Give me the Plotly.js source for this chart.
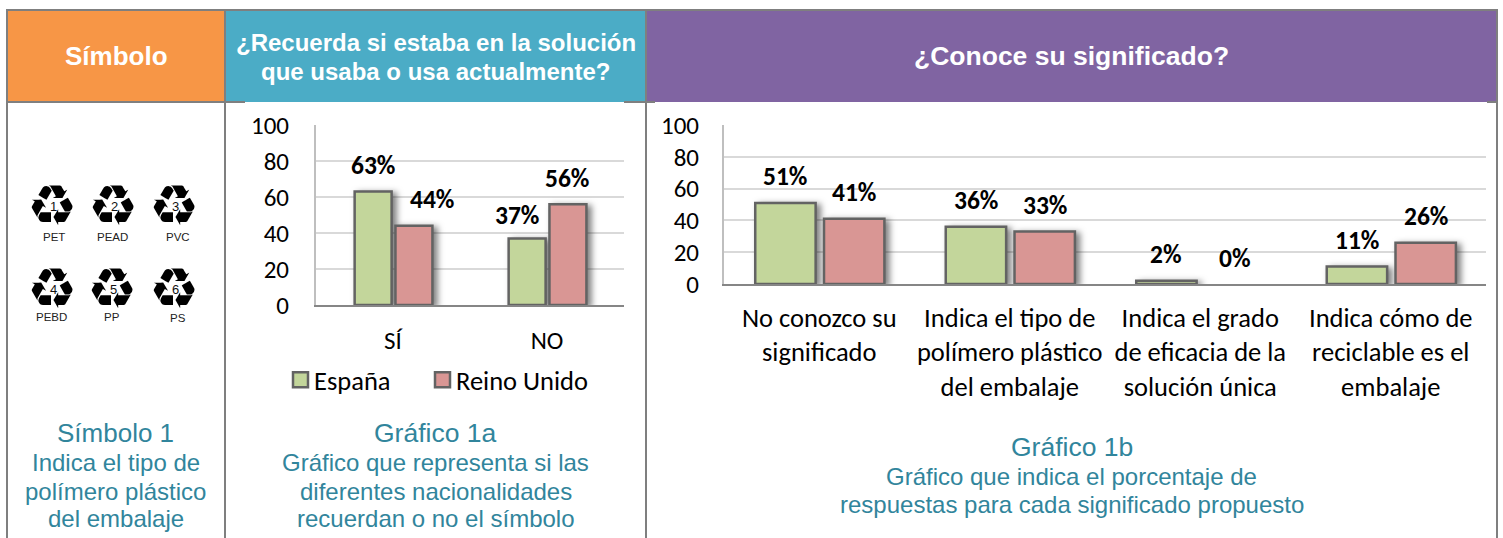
<!DOCTYPE html>
<html>
<head>
<meta charset="utf-8">
<script src="https://cdn.plot.ly/plotly-3.0.1.min.js"></script>
<style>html,body{margin:0;padding:0;background:#fff}#c{width:1503px;height:538px}</style>
</head>
<body>
<div id="c"></div>
<script>
const seriesNames = ['España', 'Reino Unido'];
const recallCats = ['SÍ', 'NO'];
const recallEspana = [63, 37];
const recallReino = [44, 56];
const meaningCats = ['No conozco su<br>significado', 'Indica el tipo de<br>polímero plástico<br>del embalaje', 'Indica el grado<br>de eficacia de la<br>solución única', 'Indica cómo de<br>reciclable es el<br>embalaje'];
const meaningEspana = [51, 36, 2, 11];
const meaningReino = [41, 33, 0, 26];
const yTicks = [0, 20, 40, 60, 80, 100];
const plasticCodes = ['1', '2', '3', '4', '5', '6'];
const plasticNames = ['PET', 'PEAD', 'PVC', 'PEBD', 'PP', 'PS'];

const W = 1503, H = 538;
const px = x => x / W, py = y => 1 - y / H;
const GREEN = '#c3d69b', RED = '#d99694', EDGE = '#636363', TEAL = '#31859c', BORDER = '#7f7f7f';
const CAL = 'Carlito, Lato, sans-serif', ARIAL = '"Liberation Sans", Arial, sans-serif';

const bar = (x, y, name, color, xa, ya, show, width, offset) => ({
  type: 'bar', x, y, name, xaxis: xa, yaxis: ya, showlegend: show, cliponaxis: false, width, offset,
  marker: {color, line: {color: EDGE, width: y.map(v => v > 0 ? 2.5 : 0)}}
});
const data = [
  bar(recallCats, recallEspana, seriesNames[0], GREEN, 'x', 'y', true, 0.24, -0.249),
  bar(recallCats, recallReino, seriesNames[1], RED, 'x', 'y', true, 0.24, 0.016),
  bar(meaningCats, meaningEspana, seriesNames[0], GREEN, 'x2', 'y2', false, 0.317, -0.336),
  bar(meaningCats, meaningReino, seriesNames[1], RED, 'x2', 'y2', false, 0.317, 0.025)
];

const txt = (x, y, text, size, color, family, bold) => ({
  xref: 'paper', yref: 'paper', x: px(x), y: py(y), text: bold ? '<b>' + text + '</b>' : text,
  showarrow: false, xanchor: 'center', yanchor: 'middle',
  font: {size, color, family}
});
const label = (xa, ya, x, v, dx, dy) => ({
  xref: xa, yref: ya, x, y: v, text: '<b>' + v + '%</b>', showarrow: false,
  xshift: dx, yshift: dy, xanchor: 'center', yanchor: 'middle',
  font: {size: 25.5, color: '#000', family: CAL}
});

const annotations = [
  txt(116.5, 56, 'Símbolo', 26, '#fff', ARIAL, true),
  txt(435.5, 42, '¿Recuerda si estaba en la solución', 24, '#fff', ARIAL, true),
  txt(435.5, 71, 'que usaba o usa actualmente?', 24, '#fff', ARIAL, true),
  txt(1071, 56, '¿Conoce su significado?', 26.5, '#fff', ARIAL, true),
  txt(115.5, 433, 'Símbolo 1', 26, TEAL, ARIAL),
  txt(115.5, 462, 'Indica el tipo de', 24, TEAL, ARIAL),
  txt(115.5, 491, 'polímero plástico', 24, TEAL, ARIAL),
  txt(115.5, 518, 'del embalaje', 24, TEAL, ARIAL),
  txt(435.5, 433, 'Gráfico 1a', 26.5, TEAL, ARIAL),
  txt(435.5, 462, 'Gráfico que representa si las', 24, TEAL, ARIAL),
  txt(435.5, 491, 'diferentes nacionalidades', 24, TEAL, ARIAL),
  txt(435.5, 518, 'recuerdan o no el símbolo', 24, TEAL, ARIAL),
  txt(1071.5, 447, 'Gráfico 1b', 26.5, TEAL, ARIAL),
  txt(1071.5, 476, 'Gráfico que indica el porcentaje de', 24, TEAL, ARIAL),
  txt(1071.5, 504, 'respuestas para cada significado propuesto', 24, TEAL, ARIAL)
];

const espShift = [-20, -30], reiShift = [39, 20], espLift = [26, 23];
recallCats.forEach((c, i) => {
  annotations.push(label('x', 'y', c, recallEspana[i], espShift[i], espLift[i]));
  annotations.push(label('x', 'y', c, recallReino[i], reiShift[i], 26));
});
meaningCats.forEach((c, i) => {
  annotations.push(label('x2', 'y2', c, meaningEspana[i], -34, 26));
  annotations.push(label('x2', 'y2', c, meaningReino[i], 35, 26));
});

const iconX = [52, 113, 174, 52, 112, 174], iconY = [205, 205, 205, 288, 288, 288];
const nameX = [54, 112, 178, 51, 112, 178], nameY = [237, 237, 237, 317, 317, 318];
plasticCodes.forEach((code, i) => {
  annotations.push(txt(iconX[i], iconY[i], '♻', 56, '#000', '"DejaVu Sans"', true));
  annotations.push(txt(iconX[i] + 1, iconY[i] + 1, code, 13, '#111', ARIAL));
  annotations.push(txt(nameX[i], nameY[i], plasticNames[i], 11.5, '#222', ARIAL));
});

const rect = (x0, y0, x1, y1, fillcolor) => ({
  type: 'rect', xref: 'paper', yref: 'paper', layer: 'below',
  x0: px(x0), x1: px(x1), y0: py(y0), y1: py(y1), fillcolor, line: {width: 0}
});
const line = (x0, y0, x1, y1) => ({
  type: 'line', xref: 'paper', yref: 'paper', layer: 'above',
  x0: px(x0), x1: px(x1), y0: py(y0), y1: py(y1), line: {color: BORDER, width: 2}
});
const shapes = [
  rect(7, 10, 225, 102, '#f79646'),
  rect(225, 10, 646, 102, '#4bacc6'),
  rect(646, 10, 1497, 102, '#8064a2'),
  line(6, 10, 1498, 10), line(7, 102, 245, 102), line(624, 102, 655, 102), line(1487, 102, 1497, 102),
  line(7, 10, 7, 538), line(225, 10, 225, 538), line(646, 10, 646, 538), line(1497, 10, 1497, 538)
];

const yax = (domain, anchor, ticklen) => ({
  domain, anchor, range: [0, 100], tickvals: yTicks, ticks: 'outside', ticklen,
  tickcolor: 'rgba(0,0,0,0)', tickfont: {size: 25, color: '#000', family: CAL},
  showgrid: true, gridcolor: '#d9d9d9', gridwidth: 2, showline: true, linecolor: '#bfbfbf',
  linewidth: 2, zeroline: false
});
const xax = (domain, anchor, ticklen, size) => ({
  domain, anchor, type: 'category', ticks: 'outside', ticklen, tickcolor: 'rgba(0,0,0,0)',
  tickfont: {size, color: '#000', family: CAL}, tickangle: 0, showline: true,
  linecolor: '#868686', linewidth: 2, showgrid: false, automargin: false
});

const layout = {
  width: W, height: H, margin: {l: 0, r: 0, t: 0, b: 0},
  paper_bgcolor: '#fff', plot_bgcolor: 'rgba(0,0,0,0)', font: {family: CAL},
  barmode: 'overlay',
  xaxis: xax([px(316), px(624)], 'y', 12, 25),
  yaxis: yax([py(305), py(125)], 'x', 20),
  xaxis2: xax([px(724), px(1486)], 'y2', 9, 26.5),
  yaxis2: yax([py(284), py(125)], 'x2', 18),
  legend: {
    orientation: 'h', xref: 'paper', yref: 'paper', x: px(280.5), y: py(380), yanchor: 'middle', xanchor: 'left',
    font: {size: 26.5, color: '#000', family: CAL}, bgcolor: 'rgba(0,0,0,0)', traceorder: 'normal',
    entrywidth: 97, entrywidthmode: 'pixels'
  },
  annotations, shapes
};

Plotly.newPlot('c', data, layout, {staticPlot: true, displayModeBar: false}).then(() => {
  document.querySelectorAll('.bars .point path').forEach(p => {
    p.style.filter = 'drop-shadow(4px 2px 3px rgba(0,0,0,0.5))';
  });
  document.querySelectorAll('.legend .legendtext').forEach(t => t.setAttribute('x', '33.5'));
  document.querySelectorAll('.legend .legendpoints path').forEach(p => {
    p.setAttribute('transform', 'translate(20,0) scale(1.25)');
    p.style.strokeWidth = '2px';
  });
  document.querySelectorAll('.legend, .legend .scrollbox').forEach(g => g.removeAttribute('clip-path'));
  document.querySelectorAll('.legend [clip-path]').forEach(g => g.removeAttribute('clip-path'));
  document.querySelectorAll('.legend .legendtext').forEach(g => { g.style.clipPath = 'none'; });
});
</script>
</body>
</html>
